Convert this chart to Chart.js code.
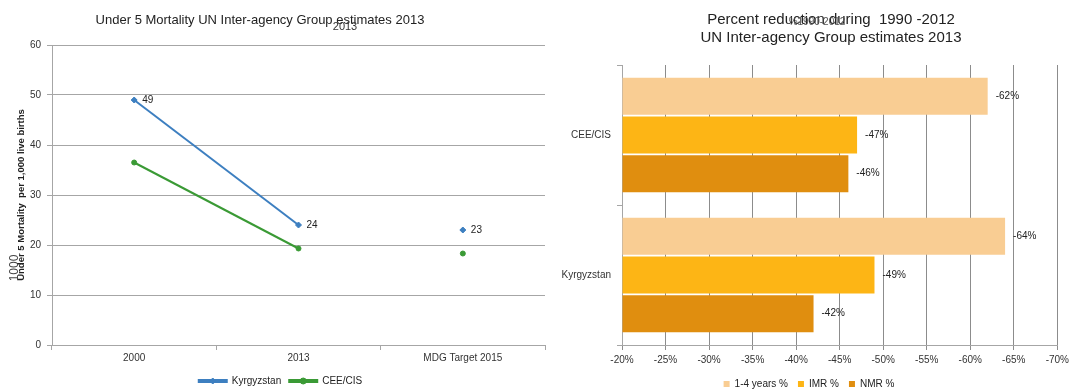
<!DOCTYPE html>
<html>
<head>
<meta charset="utf-8">
<script src="https://cdn.jsdelivr.net/npm/chart.js@4.4.0/dist/chart.umd.min.js"></script>
<style>
  body { margin: 0; background: #fff; width: 1073px; height: 391px; overflow: hidden; position: relative; }
  #left { position: absolute; left: 0; top: 0; }
  #right { position: absolute; left: 560px; top: 0; }
</style>
</head>
<body>
<canvas id="left" width="560" height="391"></canvas>
<canvas id="right" width="513" height="391"></canvas>
<script>
// left chart: under 5 mortality per 1,000 live births
const years = ['2000', '2013', 'MDG Target 2015'];
const kyrgyzstan = [49, 24, 23];
const ceeCis = [36.5, 19.3, 18.3];

// right chart: percent reduction 1990-2012
const regions = ['CEE/CIS', 'Kyrgyzstan'];
const oneToFour = [-62, -64];
const imr = [-47, -49];
const nmr = [-46, -42];

const FONT = "'Liberation Sans', Arial, sans-serif";
const GRID = '#a6a6a6';
const TEXT = '#333';

// small value labels next to points / bar ends
const valueLabels = {
  id: 'valueLabels',
  afterDatasetsDraw(chart, args, opts) {
    const ctx = chart.ctx;
    ctx.save();
    ctx.font = '10px ' + FONT;
    ctx.fillStyle = '#222';
    ctx.textAlign = 'left';
    ctx.textBaseline = 'middle';
    chart.data.datasets.forEach((ds, i) => {
      if (opts.only != null && opts.only !== i) return;
      chart.getDatasetMeta(i).data.forEach((el, j) => {
        const v = ds.data[j];
        if (v == null) return;
        ctx.fillText(opts.format(v), el.x + opts.offset, el.y);
      });
    });
    ctx.restore();
  }
};

// put the series marker in the middle of each legend line
const legendMarkers = {
  id: 'legendMarkers',
  afterDraw(chart, args, opts) {
    const lg = chart.legend;
    if (!lg || !lg.legendHitBoxes) return;
    const ctx = chart.ctx;
    const bw = lg.options.labels.boxWidth;
    lg.legendHitBoxes.forEach((hb, i) => {
      const ds = chart.data.datasets[i];
      ctx.save();
      ctx.fillStyle = ds.backgroundColor;
      ctx.strokeStyle = ds.borderColor;
      Chart.helpers.drawPoint(ctx, { pointStyle: ds.pointStyle, radius: 3, rotation: 0, borderWidth: 1 },
        hb.left + bw / 2, hb.top + hb.height / 2);
      ctx.restore();
    });
  }
};

// free texts: off-centre headings and the stray overlapping bits of the original export
const freeText = {
  id: 'freeText',
  afterDraw(chart, args, opts) {
    const ctx = chart.ctx;
    opts.items.forEach(t => {
      ctx.save();
      ctx.translate(t.x, t.y);
      if (t.rot) ctx.rotate(t.rot);
      ctx.font = t.font;
      ctx.fillStyle = t.color;
      ctx.textAlign = 'center';
      ctx.textBaseline = 'middle';
      ctx.fillText(t.text, 0, 0);
      ctx.restore();
    });
  }
};

new Chart(document.getElementById('left'), {
  type: 'line',
  data: {
    labels: years,
    datasets: [
      {
        label: 'Kyrgyzstan',
        data: kyrgyzstan,
        borderColor: '#3d7fc0',
        backgroundColor: '#3d7fc0',
        borderWidth: 2,
        pointStyle: 'rectRot',
        pointRadius: 3,
        pointBorderWidth: 1,
        segment: { borderColor: c => c.p1DataIndex === 2 ? 'transparent' : undefined }
      },
      {
        label: 'CEE/CIS',
        data: ceeCis,
        borderColor: '#3a9a35',
        backgroundColor: '#3a9a35',
        borderWidth: 2,
        pointStyle: 'circle',
        pointRadius: 2.5,
        pointBorderWidth: 1,
        segment: { borderColor: c => c.p1DataIndex === 2 ? 'transparent' : undefined }
      }
    ]
  },
  options: {
    responsive: false,
    animation: false,
    layout: { padding: { left: 16, right: 15, top: 45, bottom: -5 } },
    plugins: {
      title: { display: false },
      legend: {
        position: 'bottom',
        labels: { color: '#222', font: { family: FONT, size: 10 }, boxWidth: 28, boxHeight: 2, padding: 8 }
      },
      tooltip: { enabled: false },
      valueLabels: { only: 0, offset: 8, format: v => String(v) },
      freeText: {
        items: [
          { text: 'Under 5 Mortality UN Inter-agency Group estimates 2013', x: 260, y: 20, font: '13px ' + FONT, color: '#222' },
          { text: '2013', x: 345, y: 27, font: '11px ' + FONT, color: '#333' },
          { text: '1000', x: 15, y: 268, rot: -Math.PI / 2, font: '12px ' + FONT, color: '#444' }
        ]
      }
    },
    scales: {
      x: {
        offset: true,
        grid: { offset: true, drawOnChartArea: false, tickLength: 5, color: GRID },
        border: { color: GRID },
        ticks: { color: TEXT, font: { family: FONT, size: 10 }, padding: 2, maxRotation: 0 },
        afterFit(s) { s.height = 23; }
      },
      y: {
        min: 0,
        max: 60,
        ticks: { stepSize: 10, color: TEXT, font: { family: FONT, size: 10 }, padding: 6 },
        grid: { color: GRID, tickLength: 5 },
        border: { color: GRID },
        title: {
          display: true,
          text: 'Under 5 Mortality  per 1,000 live births',
          color: '#222',
          font: { family: FONT, size: 9.5, weight: 'bold' },
          padding: 0
        },
        afterFit(s) { s.width = 36; }
      }
    }
  },
  plugins: [valueLabels, legendMarkers, freeText]
});

new Chart(document.getElementById('right'), {
  type: 'bar',
  data: {
    labels: regions,
    datasets: [
      { label: '1-4 years %', data: oneToFour, backgroundColor: '#f9cd93' },
      { label: 'IMR %', data: imr, backgroundColor: '#fdb515' },
      { label: 'NMR %', data: nmr, backgroundColor: '#e08e0f' }
    ]
  },
  options: {
    indexAxis: 'y',
    responsive: false,
    animation: false,
    datasets: { bar: { base: -20, categoryPercentage: 0.83, barPercentage: 0.95, borderWidth: 0 } },
    layout: { padding: { left: 0, right: 15, top: 65, bottom: -8 } },
    plugins: {
      title: { display: false },
      legend: {
        position: 'bottom',
        labels: { color: '#222', font: { family: FONT, size: 10 }, boxWidth: 6, boxHeight: 6, padding: 10 }
      },
      tooltip: { enabled: false },
      valueLabels: { offset: 8, format: v => v + '%' },
      freeText: {
        items: [
          { text: 'Percent reduction during  1990 -2012', x: 271, y: 20, font: '15px ' + FONT, color: '#222' },
          { text: 'UN Inter-agency Group estimates 2013', x: 271, y: 38, font: '15px ' + FONT, color: '#222' },
          { text: '%1990-2012', x: 257, y: 22, font: '10px ' + FONT, color: '#555' }
        ]
      }
    },
    scales: {
      x: {
        min: -70,
        max: -20,
        reverse: true,
        ticks: { stepSize: 5, color: TEXT, font: { family: FONT, size: 10 }, padding: 4, callback: v => v + '%' },
        grid: { color: '#8c8c8c', tickLength: 5 },
        border: { color: GRID },
        afterFit(s) { s.height = 24; }
      },
      y: {
        grid: { drawOnChartArea: false, tickLength: 5, color: GRID },
        border: { color: GRID },
        ticks: { color: TEXT, font: { family: FONT, size: 10 }, padding: 6 },
        afterFit(s) { s.width = 62; }
      }
    }
  },
  plugins: [valueLabels, freeText]
});
</script>
</body>
</html>
